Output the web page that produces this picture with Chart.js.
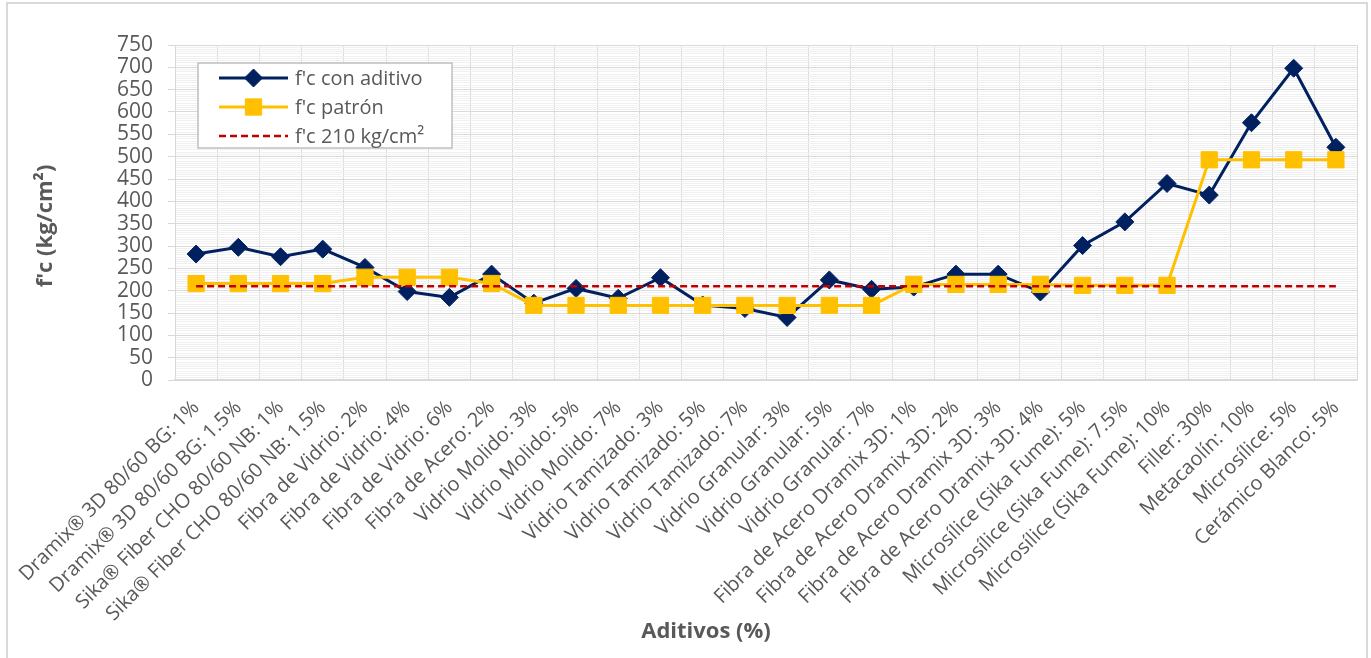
<!DOCTYPE html>
<html><head><meta charset="utf-8">
<script src="https://cdn.jsdelivr.net/npm/chart.js@4.4.0/dist/chart.umd.min.js"></script>
<style>html,body{margin:0;padding:0;background:#fff;}#wrap{position:relative;width:1371px;height:658px;}</style>
</head><body><div id="wrap"><canvas id="c" width="1371" height="658"></canvas></div>
<script>
const categories = [
  "Dramix® 3D 80/60 BG: 1%",
  "Dramix® 3D 80/60 BG: 1.5%",
  "Sika® Fiber CHO 80/60 NB: 1%",
  "Sika® Fiber CHO 80/60 NB: 1.5%",
  "Fibra de Vidrio: 2%",
  "Fibra de Vidrio: 4%",
  "Fibra de Vidrio: 6%",
  "Fibra de Acero: 2%",
  "Vidrio Molido: 3%",
  "Vidrio Molido: 5%",
  "Vidrio Molido: 7%",
  "Vidrio Tamizado: 3%",
  "Vidrio Tamizado: 5%",
  "Vidrio Tamizado: 7%",
  "Vidrio Granular: 3%",
  "Vidrio Granular: 5%",
  "Vidrio Granular: 7%",
  "Fibra de Acero Dramix 3D: 1%",
  "Fibra de Acero Dramix 3D: 2%",
  "Fibra de Acero Dramix 3D: 3%",
  "Fibra de Acero Dramix 3D: 4%",
  "Microsílice (Sika Fume): 5%",
  "Microsílice (Sika Fume): 7.5%",
  "Microsílice (Sika Fume): 10%",
  "Filler: 30%",
  "Metacaolín: 10%",
  "Microsílice: 5%",
  "Cerámico Blanco: 5%"
];
const conAditivo = [282, 297, 276, 293, 252, 198, 185, 237, 172, 205, 183, 229, 168, 160, 140, 224, 203, 208, 237, 237, 197, 301, 354, 440, 414, 576, 698, 521];
const patron = [216, 216, 216, 216, 230, 230, 230, 216, 167, 167, 167, 167, 167, 167, 167, 167, 167, 214, 214, 214, 214, 212, 212, 212, 493, 493, 493, 493];
const referencia = [210, 210, 210, 210, 210, 210, 210, 210, 210, 210, 210, 210, 210, 210, 210, 210, 210, 210, 210, 210, 210, 210, 210, 210, 210, 210, 210, 210];
const seriesNames = ["f'c con aditivo", "f'c patrón", "f'c 210 kg/cm²"];
const yMin = 0, yMax = 750, yStep = 50, yMinorStep = 5;
const xTitle = "Aditivos (%)";
const yTitle = "f'c (kg/cm²)";

const FONT = '"Open Sans", "Liberation Sans", sans-serif';
const TXT = '#595959';

const decor = {
  id: 'decor',
  beforeDraw(chart) {
    const ctx = chart.ctx;
    ctx.save();
    ctx.fillStyle = '#fff';
    ctx.fillRect(0, 0, chart.width, chart.height);
    ctx.restore();
  },
  afterDraw(chart) {
    const ctx = chart.ctx;
    ctx.save();
    ctx.strokeStyle = '#d9d9d9';
    ctx.lineWidth = 2;
    ctx.strokeRect(7, 3, 1360, 700);
    ctx.fillStyle = TXT;
    ctx.font = 'bold 22px ' + FONT;
    ctx.textAlign = 'center';
    ctx.textBaseline = 'middle';
    ctx.fillText(xTitle, 706, 632);
    ctx.translate(46, 226);
    ctx.rotate(-Math.PI / 2);
    ctx.fillText(yTitle, 0, 0);
    ctx.restore();

    // legend
    ctx.save();
    const bx = 198, by = 63, bw = 254, bh = 85;
    ctx.fillStyle = '#fff';
    ctx.fillRect(bx, by, bw, bh);
    ctx.strokeStyle = '#bfbfbf';
    ctx.lineWidth = 1.5;
    ctx.strokeRect(bx, by, bw, bh);
    const rows = [78, 107, 136];
    chart.data.datasets.forEach((ds, i) => {
      const y = rows[i];
      ctx.save();
      ctx.strokeStyle = ds.borderColor;
      ctx.lineWidth = ds.borderWidth;
      ctx.setLineDash(ds.borderDash || []);
      ctx.beginPath();
      ctx.moveTo(219, y);
      ctx.lineTo(288, y);
      ctx.stroke();
      ctx.restore();
      if (ds.pointRadius > 0) {
        ctx.save();
        ctx.fillStyle = ds.pointBackgroundColor;
        ctx.strokeStyle = ds.pointBorderColor;
        ctx.lineWidth = ds.pointBorderWidth;
        Chart.helpers.drawPoint(ctx, {pointStyle: ds.pointStyle, radius: ds.pointRadius, rotation: 0, borderWidth: ds.pointBorderWidth}, 253.5, y);
        ctx.restore();
      }
      ctx.fillStyle = TXT;
      ctx.font = '20px ' + FONT;
      ctx.textAlign = 'left';
      ctx.textBaseline = 'middle';
      ctx.fillText(ds.label, 295, y + 1);
    });
    ctx.restore();
  }
};

new Chart(document.getElementById('c'), {
  type: 'line',
  data: {
    labels: categories,
    datasets: [
      {
        label: seriesNames[0], data: conAditivo,
        borderColor: '#002060', backgroundColor: '#002060', borderWidth: 3,
        pointStyle: 'rectRot', pointRadius: 9, pointBackgroundColor: '#002060', pointBorderColor: '#002060', pointBorderWidth: 1,
        order: 3, tension: 0
      },
      {
        label: seriesNames[1], data: patron,
        borderColor: '#FFC000', backgroundColor: '#FFC000', borderWidth: 3,
        pointStyle: 'rect', pointRadius: 11.5, pointBackgroundColor: '#FFC000', pointBorderColor: '#FFC000', pointBorderWidth: 1,
        order: 2, tension: 0
      },
      {
        label: seriesNames[2], data: referencia,
        borderColor: '#C00000', backgroundColor: '#C00000', borderWidth: 2.5, borderDash: [7, 4],
        pointRadius: 0, pointStyle: 'circle', order: 1, tension: 0
      }
    ]
  },
  options: {
    responsive: false,
    animation: false,
    devicePixelRatio: 1,
    layout: { padding: { top: 45, right: 14, left: 0, bottom: 18 } },
    plugins: { legend: { display: false }, tooltip: { enabled: false } },
    scales: {
      x: {
        offset: true,
        grid: { offset: true, color: '#d9d9d9', lineWidth: 1, drawTicks: false },
        border: { color: '#d9d9d9', width: 1.5 },
        ticks: { autoSkip: false, minRotation: 45, maxRotation: 45, color: TXT, font: { family: FONT, size: 20 }, padding: 16 },
        afterFit(s) { s.height = 260; }
      },
      yMinor: {
        position: 'left', min: yMin, max: yMax, z: -1,
        grid: { color: '#f0f0f0', lineWidth: 1, drawTicks: false },
        border: { display: false },
        ticks: { display: false, stepSize: yMinorStep, autoSkip: false, maxTicksLimit: 1000 },
        afterFit(s) { s.width = 0; }
      },
      y: {
        position: 'left', min: yMin, max: yMax,
        grid: { color: '#d9d9d9', lineWidth: 1, tickLength: 7 },
        border: { color: '#d9d9d9', width: 1 },
        ticks: { stepSize: yStep, autoSkip: false, color: TXT, font: { family: FONT, size: 21 }, padding: 15 },
        afterFit(s) { s.width = 175; }
      }
    }
  },
  plugins: [decor]
});
</script></body></html>
